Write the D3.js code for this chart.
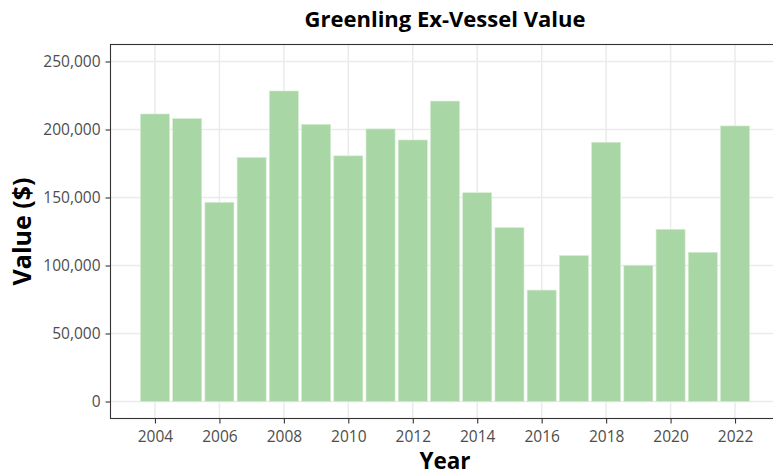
<!DOCTYPE html>
<html><head><meta charset="utf-8">
<script src="https://cdn.jsdelivr.net/npm/d3@7"></script>
<style>body{margin:0;background:#fff}svg{display:block}text{font-family:"Open Sans","Noto Sans",sans-serif}</style>
</head><body><svg id="c" width="773" height="474"></svg>
<script>
const years = [2004,2005,2006,2007,2008,2009,2010,2011,2012,2013,2014,2015,2016,2017,2018,2019,2020,2021,2022];
const values = [211400,208000,146400,179400,228300,203800,180600,200400,192300,220900,153500,127800,81900,107300,190600,100000,126600,109700,202600];
const yTicks = [0,50000,100000,150000,200000,250000];
const xTicks = [2004,2006,2008,2010,2012,2014,2016,2018,2020,2022];
const title = "Greenling Ex-Vessel Value";
const xTitle = "Year";
const yTitle = "Value ($)";

const svg = d3.select("#c");
const L = 110.5, R = 779.5, T = 44.5, B = 418.5;
const x = d3.scaleLinear().domain([2002.62, 2023.38]).range([L, R]);
const y = d3.scaleLinear().domain([-12500, 262500]).range([B, T]);

const g = svg.append("g");
g.selectAll(".gy").data(yTicks).enter().append("line")
  .attr("x1", L).attr("x2", R).attr("y1", d => y(d)).attr("y2", d => y(d))
  .attr("stroke", "#ebebeb").attr("stroke-width", 1.5);
g.selectAll(".gx").data(xTicks).enter().append("line")
  .attr("y1", T).attr("y2", B).attr("x1", d => x(d)).attr("x2", d => x(d))
  .attr("stroke", "#ebebeb").attr("stroke-width", 1.5);
g.selectAll(".bar").data(years).enter().append("rect")
  .attr("x", d => x(d - 0.45)).attr("width", d => x(d + 0.45) - x(d - 0.45))
  .attr("y", (d, i) => y(values[i])).attr("height", (d, i) => y(0) - y(values[i]))
  .attr("fill", "#a9d6a5").attr("stroke", "#d2ebd0").attr("stroke-width", 0.6);
g.append("rect").attr("x", L).attr("y", T).attr("width", R - L).attr("height", B - T)
  .attr("fill", "none").attr("stroke", "#333333").attr("stroke-width", 1.1);
const font = '"Open Sans","Noto Sans",sans-serif';
const ya = svg.append("g").attr("transform", `translate(${L},0)`)
  .call(d3.axisLeft(y).tickValues(yTicks).tickSize(5).tickPadding(5).tickFormat(d3.format(",")));
const xa = svg.append("g").attr("transform", `translate(0,${B})`)
  .call(d3.axisBottom(x).tickValues(xTicks).tickSize(5).tickPadding(7).tickFormat(d3.format("d")));
[ya, xa].forEach(a => {
  a.select(".domain").remove();
  a.selectAll(".tick line").attr("stroke", "#333333").attr("stroke-width", 1.1);
  a.selectAll(".tick text").attr("fill", "#4d4d4d").style("font-size", "15.5px").style("font-family", font);
});
svg.append("text").attr("x", (L + R) / 2).attr("y", 27).attr("text-anchor", "middle")
  .style("font-size", "22px").style("font-weight", "bold").attr("fill", "#000").text(title);
svg.append("text").attr("x", (L + R) / 2).attr("y", 469).attr("text-anchor", "middle")
  .style("font-size", "22.5px").style("font-weight", "bold").attr("fill", "#000").text(xTitle);
svg.append("text").attr("transform", `translate(31,${(T + B) / 2}) rotate(-90)`).attr("text-anchor", "middle")
  .style("font-size", "25px").style("font-weight", "bold").attr("fill", "#000").text(yTitle);
</script></body></html>
